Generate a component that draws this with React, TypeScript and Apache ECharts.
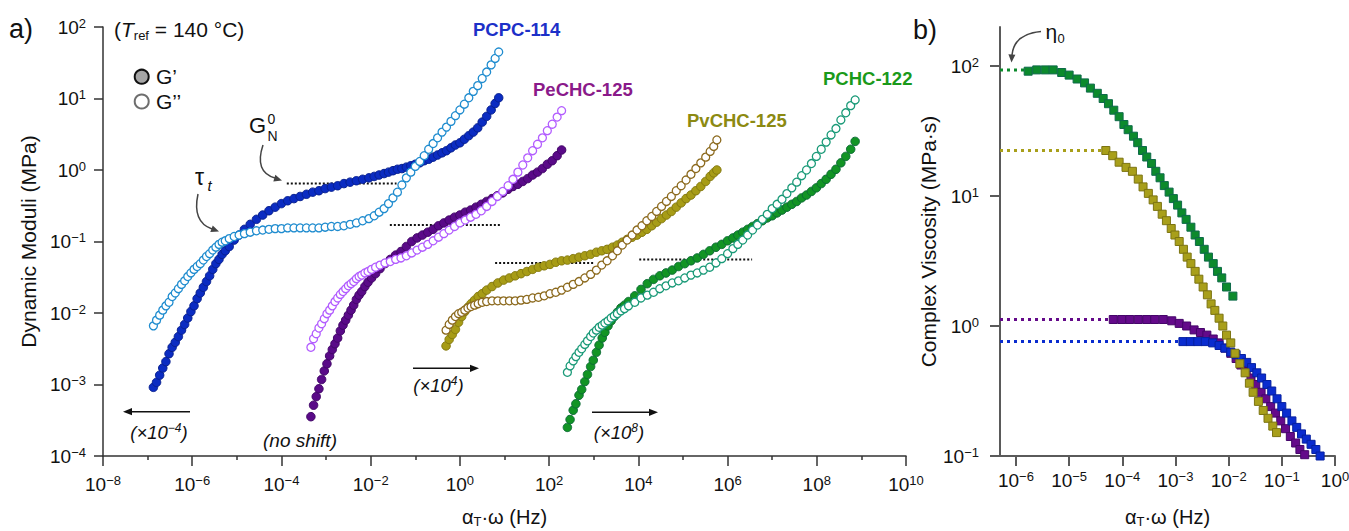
import React, { useEffect, useRef } from 'react';
import * as echarts from 'echarts';

const FONT = '"Liberation Sans", Arial, Helvetica, sans-serif';

// ---------------- panel a) : log10(aT·ω / Hz) vs log10(G / MPa) ----------------
// PCPC-114 (shift ×10^-4)
const pcpcLogF = [-6.87,-6.80,-6.73,-6.66,-6.59,-6.52,-6.45,-6.38,-6.31,-6.24,-6.17,-6.10,-6.03,-5.96,-5.89,-5.82,-5.75,-5.68,-5.61,-5.54,-5.47,-5.40,-5.33,-5.26,-5.17,-5.06,-4.95,-4.83,-4.70,-4.56,-4.42,-4.28,-4.14,-4.00,-3.86,-3.72,-3.58,-3.44,-3.30,-3.16,-3.02,-2.88,-2.74,-2.60,-2.46,-2.32,-2.18,-2.04,-1.92,-1.81,-1.70,-1.60,-1.50,-1.40,-1.30,-1.20,-1.10,-1.00,-0.90,-0.80,-0.70,-0.60,-0.50,-0.40,-0.30,-0.20,-0.10,0.00,0.10,0.20,0.30,0.40,0.50,0.60,0.70,0.79,0.87];
const pcpcLogGp = [-3.04,-2.97,-2.87,-2.77,-2.68,-2.57,-2.48,-2.41,-2.33,-2.24,-2.16,-2.07,-1.98,-1.90,-1.80,-1.72,-1.64,-1.56,-1.48,-1.39,-1.31,-1.25,-1.18,-1.13,-1.07,-0.98,-0.91,-0.83,-0.76,-0.69,-0.63,-0.57,-0.52,-0.47,-0.43,-0.40,-0.37,-0.34,-0.31,-0.29,-0.26,-0.24,-0.22,-0.19,-0.17,-0.15,-0.13,-0.11,-0.09,-0.07,-0.05,-0.03,-0.01,0.01,0.02,0.04,0.06,0.08,0.10,0.13,0.15,0.18,0.21,0.24,0.27,0.31,0.35,0.38,0.43,0.48,0.53,0.59,0.67,0.75,0.84,0.93,1.01];
const pcpcLogGpp = [-2.18,-2.10,-2.03,-1.96,-1.90,-1.85,-1.77,-1.72,-1.66,-1.60,-1.55,-1.49,-1.44,-1.39,-1.35,-1.31,-1.26,-1.21,-1.17,-1.12,-1.08,-1.04,-1.01,-0.99,-0.96,-0.93,-0.91,-0.89,-0.87,-0.85,-0.84,-0.83,-0.82,-0.82,-0.81,-0.81,-0.81,-0.81,-0.81,-0.81,-0.80,-0.79,-0.79,-0.78,-0.76,-0.74,-0.71,-0.68,-0.64,-0.59,-0.54,-0.47,-0.39,-0.31,-0.21,-0.11,-0.03,0.05,0.12,0.20,0.29,0.37,0.45,0.53,0.60,0.68,0.76,0.84,0.92,1.01,1.10,1.18,1.28,1.37,1.47,1.56,1.65];

// PeCHC-125 (no shift)
const pechcLogF = [-3.34,-3.28,-3.22,-3.16,-3.10,-3.04,-2.98,-2.92,-2.86,-2.80,-2.74,-2.68,-2.62,-2.56,-2.50,-2.44,-2.38,-2.32,-2.26,-2.20,-2.13,-2.06,-1.98,-1.89,-1.79,-1.68,-1.56,-1.44,-1.32,-1.20,-1.08,-0.96,-0.84,-0.72,-0.60,-0.48,-0.36,-0.24,-0.12,0.00,0.12,0.24,0.36,0.48,0.60,0.72,0.84,0.96,1.08,1.19,1.30,1.41,1.52,1.63,1.74,1.85,1.96,2.07,2.18,2.28];
const pechcLogGp = [-3.45,-3.29,-3.17,-3.06,-2.93,-2.81,-2.71,-2.60,-2.51,-2.43,-2.35,-2.25,-2.17,-2.10,-2.03,-1.96,-1.89,-1.81,-1.75,-1.70,-1.63,-1.57,-1.51,-1.45,-1.38,-1.31,-1.25,-1.19,-1.14,-1.07,-1.00,-0.95,-0.91,-0.87,-0.83,-0.78,-0.74,-0.70,-0.66,-0.63,-0.59,-0.56,-0.52,-0.48,-0.44,-0.40,-0.36,-0.32,-0.27,-0.23,-0.20,-0.16,-0.12,-0.07,-0.03,0.02,0.08,0.13,0.20,0.28];
const pechcLogGpp = [-2.48,-2.36,-2.29,-2.21,-2.15,-2.08,-2.01,-1.96,-1.90,-1.84,-1.79,-1.74,-1.70,-1.66,-1.62,-1.59,-1.56,-1.52,-1.49,-1.47,-1.44,-1.42,-1.39,-1.36,-1.33,-1.30,-1.28,-1.25,-1.23,-1.20,-1.16,-1.12,-1.08,-1.04,-0.99,-0.94,-0.89,-0.84,-0.79,-0.74,-0.70,-0.66,-0.62,-0.57,-0.51,-0.44,-0.37,-0.30,-0.22,-0.13,-0.03,0.07,0.17,0.27,0.36,0.45,0.55,0.64,0.74,0.83];

// PvCHC-125 (shift ×10^4)
const pvchcLogF = [-0.31,-0.24,-0.17,-0.10,-0.03,0.04,0.11,0.18,0.25,0.33,0.41,0.50,0.60,0.72,0.85,0.98,1.11,1.24,1.37,1.50,1.63,1.76,1.89,2.02,2.15,2.28,2.41,2.54,2.67,2.80,2.93,3.06,3.18,3.30,3.42,3.53,3.64,3.75,3.86,3.97,4.08,4.19,4.30,4.41,4.52,4.63,4.74,4.85,4.96,5.07,5.18,5.29,5.40,5.51,5.61,5.69,5.76];
const pvchcLogGp = [-2.46,-2.37,-2.30,-2.23,-2.13,-2.05,-1.98,-1.92,-1.87,-1.82,-1.77,-1.73,-1.68,-1.63,-1.58,-1.54,-1.51,-1.48,-1.45,-1.42,-1.39,-1.36,-1.34,-1.32,-1.29,-1.27,-1.26,-1.24,-1.22,-1.20,-1.18,-1.15,-1.13,-1.11,-1.08,-1.05,-1.01,-0.97,-0.94,-0.91,-0.87,-0.83,-0.78,-0.73,-0.68,-0.63,-0.58,-0.52,-0.46,-0.40,-0.35,-0.29,-0.23,-0.16,-0.09,-0.04,0.00];
const pvchcLogGpp = [-2.24,-2.16,-2.10,-2.05,-2.01,-1.99,-1.96,-1.93,-1.91,-1.89,-1.87,-1.85,-1.84,-1.83,-1.83,-1.83,-1.83,-1.83,-1.82,-1.81,-1.79,-1.78,-1.76,-1.73,-1.71,-1.68,-1.64,-1.60,-1.56,-1.51,-1.46,-1.40,-1.33,-1.27,-1.20,-1.13,-1.05,-0.98,-0.91,-0.84,-0.78,-0.71,-0.65,-0.58,-0.51,-0.44,-0.37,-0.29,-0.22,-0.14,-0.06,0.02,0.10,0.18,0.26,0.33,0.42];

// PCHC-122 (shift ×10^8)
const pchcLogF = [2.41,2.47,2.54,2.60,2.67,2.73,2.80,2.86,2.93,2.99,3.06,3.12,3.19,3.25,3.32,3.39,3.46,3.53,3.61,3.69,3.78,3.92,4.06,4.20,4.34,4.48,4.62,4.76,4.90,5.04,5.18,5.32,5.46,5.60,5.74,5.87,6.00,6.12,6.23,6.34,6.45,6.56,6.67,6.78,6.89,7.00,7.11,7.22,7.33,7.44,7.55,7.66,7.77,7.88,7.99,8.10,8.21,8.32,8.43,8.54,8.65,8.76,8.86];
const pchcLogGp = [-3.60,-3.49,-3.36,-3.27,-3.15,-3.07,-2.96,-2.86,-2.75,-2.66,-2.55,-2.45,-2.35,-2.27,-2.18,-2.11,-2.05,-1.99,-1.93,-1.89,-1.84,-1.76,-1.67,-1.59,-1.53,-1.48,-1.44,-1.40,-1.35,-1.31,-1.27,-1.23,-1.18,-1.13,-1.08,-1.04,-0.99,-0.95,-0.91,-0.87,-0.83,-0.79,-0.75,-0.71,-0.67,-0.64,-0.60,-0.56,-0.52,-0.48,-0.44,-0.39,-0.35,-0.30,-0.25,-0.19,-0.13,-0.06,0.01,0.10,0.19,0.29,0.40];
const pchcLogGpp = [-2.83,-2.74,-2.67,-2.61,-2.55,-2.50,-2.44,-2.39,-2.33,-2.28,-2.24,-2.20,-2.17,-2.14,-2.11,-2.07,-2.04,-2.01,-1.97,-1.94,-1.90,-1.85,-1.79,-1.75,-1.71,-1.66,-1.62,-1.58,-1.55,-1.51,-1.47,-1.44,-1.40,-1.36,-1.30,-1.24,-1.17,-1.10,-1.04,-0.98,-0.91,-0.84,-0.77,-0.69,-0.62,-0.54,-0.48,-0.41,-0.33,-0.25,-0.17,-0.08,0.00,0.09,0.19,0.29,0.39,0.49,0.58,0.70,0.80,0.90,0.98];

// plateau modulus G_N^0 guide lines (PCPC, PeCHC, PvCHC, PCHC)
const plateauStart = [-3.88, -1.57, 0.79, 4.02];
const plateauEnd = [-1.42, 0.94, 3.03, 6.55];
const plateauLogG = [-0.19, -0.77, -1.30, -1.25];

// ---------------- panel b) : log10(aT·ω / Hz) vs log10(|η*| / MPa·s) ----------------
const pchcEta = [[-5.77,1.96],[-5.61,1.97],[-5.45,1.97],[-5.30,1.97],[-5.14,1.95],[-5.00,1.93],[-4.85,1.90],[-4.71,1.87],[-4.60,1.83],[-4.47,1.79],[-4.36,1.75],[-4.26,1.71],[-4.16,1.66],[-4.06,1.61],[-3.97,1.55],[-3.89,1.51],[-3.79,1.46],[-3.71,1.41],[-3.62,1.35],[-3.54,1.30],[-3.45,1.25],[-3.37,1.19],[-3.29,1.14],[-3.21,1.08],[-3.12,1.03],[-3.04,0.98],[-2.96,0.93],[-2.88,0.87],[-2.80,0.82],[-2.71,0.76],[-2.63,0.70],[-2.55,0.65],[-2.46,0.59],[-2.38,0.53],[-2.29,0.48],[-2.21,0.42],[-2.13,0.37],[-2.04,0.30],[-1.92,0.23]];
const pvchcEta = [[-4.31,1.35],[-4.18,1.31],[-4.06,1.26],[-3.93,1.22],[-3.81,1.19],[-3.70,1.13],[-3.61,1.07],[-3.51,1.02],[-3.42,0.97],[-3.34,0.92],[-3.25,0.86],[-3.17,0.81],[-3.08,0.75],[-3.01,0.70],[-2.93,0.65],[-2.85,0.59],[-2.78,0.53],[-2.71,0.48],[-2.63,0.42],[-2.56,0.36],[-2.48,0.30],[-2.40,0.24],[-2.33,0.17],[-2.26,0.12],[-2.18,0.06],[-2.11,0.00],[-2.04,-0.07],[-1.96,-0.13],[-1.88,-0.21],[-1.79,-0.29],[-1.69,-0.36],[-1.61,-0.44],[-1.54,-0.51],[-1.44,-0.58],[-1.35,-0.65],[-1.26,-0.71],[-1.17,-0.77],[-1.10,-0.82]];
const pechcEta = [[-4.17,0.05],[-4.01,0.05],[-3.86,0.05],[-3.70,0.05],[-3.54,0.05],[-3.39,0.05],[-3.23,0.05],[-3.07,0.04],[-2.93,0.02],[-2.79,0.00],[-2.65,-0.03],[-2.53,-0.05],[-2.41,-0.07],[-2.29,-0.10],[-2.18,-0.13],[-2.07,-0.17],[-1.96,-0.21],[-1.86,-0.25],[-1.77,-0.30],[-1.67,-0.35],[-1.58,-0.40],[-1.49,-0.45],[-1.39,-0.51],[-1.30,-0.56],[-1.21,-0.62],[-1.12,-0.67],[-1.02,-0.73],[-0.93,-0.79],[-0.84,-0.85],[-0.74,-0.90],[-0.66,-0.95],[-0.57,-0.99]];
const pcpcEta = [[-2.86,-0.12],[-2.72,-0.12],[-2.58,-0.12],[-2.44,-0.12],[-2.30,-0.13],[-2.18,-0.15],[-2.07,-0.17],[-1.96,-0.20],[-1.86,-0.22],[-1.76,-0.25],[-1.66,-0.28],[-1.57,-0.32],[-1.47,-0.36],[-1.38,-0.40],[-1.28,-0.45],[-1.19,-0.50],[-1.09,-0.56],[-1.00,-0.62],[-0.91,-0.67],[-0.81,-0.73],[-0.72,-0.78],[-0.63,-0.83],[-0.54,-0.87],[-0.45,-0.91],[-0.36,-0.95],[-0.28,-1.00]];
// zero-shear viscosity levels η0 (PeCHC, PCPC, PvCHC, PCHC)
const eta0Log = [0.05, -0.12, 1.35, 1.97];

// tick values (decades)
const xTicksB = [-6, -5, -4, -3, -2, -1, 0];
const yTicksB = [-1, 0, 1, 2];

// ---------------- styling ----------------
const panelA = [
  { F: pcpcLogF, Gp: pcpcLogGp, Gpp: pcpcLogGpp, fill: '#0b2cc2', edge: '#08208f', open: '#1f8ccf' },
  { F: pechcLogF, Gp: pechcLogGp, Gpp: pechcLogGpp, fill: '#5a0a88', edge: '#420668', open: '#b25cff' },
  { F: pvchcLogF, Gp: pvchcLogGp, Gpp: pvchcLogGpp, fill: '#a79c16', edge: '#857a0f', open: '#8c6a1e' },
  { F: pchcLogF, Gp: pchcLogGp, Gpp: pchcLogGpp, fill: '#129424', edge: '#0c6d36', open: '#1a9a78' },
];
const panelB = [
  { data: pechcEta, eta0: eta0Log[0], fill: '#640a8a', edge: '#45066a' },
  { data: pcpcEta, eta0: eta0Log[1], fill: '#0a2ccf', edge: '#0620a0' },
  { data: pvchcEta, eta0: eta0Log[2], fill: '#a89f1a', edge: '#7c7412' },
  { data: pchcEta, eta0: eta0Log[3], fill: '#0c8a2c', edge: '#0e6a4a' },
];

const supText = (v: number) => {
  const n = Math.round(v);
  return n < 0 ? '\u2212' + Math.abs(n) : String(n);
};
const pow10 = (v: number) => '{b|10}{s|' + supText(v) + '}';
const tickRich = {
  b: { fontSize: 19, lineHeight: 21, fontFamily: FONT, color: '#111' },
  s: { fontSize: 13, fontFamily: FONT, color: '#111', verticalAlign: 'top' },
};
const nameRich = {
  a: { fontSize: 20, lineHeight: 22, fontFamily: FONT, color: '#111' },
  t: { fontSize: 13, fontFamily: FONT, color: '#111', verticalAlign: 'bottom' },
};
const xName = '{a|α}{t|T}{a|·ω (Hz)}';

function T(x: number, y: number, text: string, extra: any = {}, align = 'left') {
  return {
    type: 'text', x, y, silent: true, z: 100,
    style: {
      text, fontFamily: FONT, fontSize: 18, fill: '#111',
      textAlign: align, align, textVerticalAlign: 'middle', verticalAlign: 'middle',
      ...extra,
    },
  };
}
function head(tx: number, ty: number, dx: number, dy: number, color = '#111', len = 9, half = 3.6) {
  const n = Math.hypot(dx, dy);
  const ux = dx / n, uy = dy / n, px = -uy, py = ux;
  const bx = tx - ux * len, by = ty - uy * len;
  return {
    type: 'polygon', silent: true, z: 100,
    shape: { points: [[tx, ty], [bx + px * half, by + py * half], [bx - px * half, by - py * half]] },
    style: { fill: color },
  };
}
function seg(x1: number, y1: number, x2: number, y2: number) {
  return { type: 'line', silent: true, z: 100, shape: { x1, y1, x2, y2 }, style: { stroke: '#111', lineWidth: 1.6 } };
}
function curve(x1: number, y1: number, cx: number, cy: number, x2: number, y2: number) {
  return {
    type: 'bezierCurve', silent: true, z: 100,
    shape: { x1, y1, cpx1: cx, cpy1: cy, x2, y2 },
    style: { stroke: '#444', lineWidth: 1.5, fill: 'none' },
  };
}
const shiftRich = {
  i: { fontSize: 18.5, lineHeight: 21, fontStyle: 'italic', fontFamily: FONT, fill: '#111' },
  s: { fontSize: 12, fontStyle: 'italic', fontFamily: FONT, fill: '#111', verticalAlign: 'top' },
};

function buildOption(): any {
  const series: any[] = [];
  plateauLogG.forEach((g, i) => {
    series.push({
      type: 'line', xAxisIndex: 0, yAxisIndex: 0, silent: true, symbol: 'none', z: 1,
      data: [[plateauStart[i], g], [plateauEnd[i], g]],
      lineStyle: { color: '#111', width: 2, type: [2, 2] },
    });
  });
  panelA.forEach((m) => {
    series.push({
      type: 'scatter', xAxisIndex: 0, yAxisIndex: 0, silent: true, symbol: 'circle', symbolSize: 8.5, z: 2,
      data: m.F.map((f, i) => [f, m.Gp[i]]),
      itemStyle: { color: m.fill, borderColor: m.edge, borderWidth: 1, opacity: 1 },
    });
    series.push({
      type: 'scatter', xAxisIndex: 0, yAxisIndex: 0, silent: true, symbol: 'circle', symbolSize: 8, z: 3,
      data: m.F.map((f, i) => [f, m.Gpp[i]]),
      itemStyle: { color: '#ffffff', borderColor: m.open, borderWidth: 1.3, opacity: 1 },
    });
  });
  panelB.forEach((m) => {
    series.push({
      type: 'line', xAxisIndex: 1, yAxisIndex: 1, silent: true, symbol: 'none', z: 1,
      data: [[-6.3, m.eta0], [m.data[0][0], m.eta0]],
      lineStyle: { color: m.fill, width: 3, type: [3, 4] },
    });
  });
  panelB.forEach((m) => {
    series.push({
      type: 'scatter', xAxisIndex: 1, yAxisIndex: 1, silent: true, symbol: 'rect', symbolSize: 8, z: 2,
      data: m.data,
      itemStyle: { color: m.fill, borderColor: m.edge, borderWidth: 1, opacity: 1 },
    });
  });

  const lineA = { show: true, onZero: false, lineStyle: { color: '#333', width: 1.5 } };
  const lineB = { show: true, onZero: false, lineStyle: { color: '#5a5a5a', width: 2 } };

  const graphic: any[] = [
    T(9, 29, 'a)', { fontSize: 27 }),
    T(913, 30, 'b)', { fontSize: 27 }),
    T(114, 29, '{n|(}{i|T}{s|ref}{n| = 140 °C)}', {
      rich: {
        n: { fontSize: 21, lineHeight: 26, fontFamily: FONT, fill: '#111' },
        i: { fontSize: 21, lineHeight: 26, fontStyle: 'italic', fontFamily: FONT, fill: '#111' },
        s: { fontSize: 13, fontFamily: FONT, fill: '#111', verticalAlign: 'bottom' },
      },
    }),
    { type: 'circle', silent: true, z: 100, shape: { cx: 141.7, cy: 76.7, r: 7 }, style: { fill: '#a6a6a6', stroke: '#111', lineWidth: 2 } },
    T(156, 76.7, 'G’', { fontSize: 21 }),
    { type: 'circle', silent: true, z: 100, shape: { cx: 141.7, cy: 101.5, r: 7 }, style: { fill: '#ffffff', stroke: '#6e6e6e', lineWidth: 2 } },
    T(156, 101.5, 'G’’', { fontSize: 21 }),
    // material labels
    T(473, 29, 'PCPC-114', { fontSize: 18.5, fontWeight: 'bold', fill: '#1c30c8' }),
    T(533, 89, 'PeCHC-125', { fontSize: 18.5, fontWeight: 'bold', fill: '#8a1a8a' }),
    T(687, 120, 'PvCHC-125', { fontSize: 18.5, fontWeight: 'bold', fill: '#8c8a12' }),
    T(823, 78, 'PCHC-122', { fontSize: 18.5, fontWeight: 'bold', fill: '#1a9a1a' }),
    // shift factors
    seg(190, 411.7, 130, 411.7), head(123, 411.7, -1, 0),
    T(159, 432, '{i|(×10}{s|−4}{i|)}', { rich: shiftRich }, 'center'),
    T(300, 440, '(no shift)', { fontSize: 19, fontStyle: 'italic' }, 'center'),
    seg(413, 368.3, 472, 368.3), head(479, 368.3, 1, 0),
    T(438.5, 385, '{i|(×10}{s|4}{i|)}', { rich: shiftRich }, 'center'),
    seg(592, 412.3, 651, 412.3), head(658, 412.3, 1, 0),
    T(619, 432, '{i|(×10}{s|8}{i|)}', { rich: shiftRich }, 'center'),
    // tau_t
    T(195, 177, 'τ', { fontSize: 23 }),
    T(207.5, 185, 't', { fontSize: 15, fontStyle: 'italic' }),
    curve(198, 194, 192, 222, 212, 229), head(219, 231.5, 1, 0.38, '#444', 8, 3.5),
    // G_N^0
    T(249, 125.5, 'G', { fontSize: 22 }),
    T(267.5, 118.5, '0', { fontSize: 14 }),
    T(267.5, 136, 'N', { fontSize: 14 }),
    curve(263, 145, 254, 172, 275, 178), head(282, 180.5, 1, 0.3, '#444', 8, 3.5),
    // eta_0
    T(1045.5, 31, 'η', { fontSize: 21 }),
    T(1057.5, 38, '0', { fontSize: 13 }),
    curve(1041, 31.5, 1014, 34, 1012, 55), head(1011.5, 62.5, -0.05, 1, '#444', 8, 3.5),
  ];

  return {
    animation: false,
    backgroundColor: '#ffffff',
    textStyle: { fontFamily: FONT },
    grid: [
      { left: 103, top: 27, width: 803, height: 429, outerBoundsMode: 'none', containLabel: false },
      { left: 1000, top: 27, width: 335, height: 429, outerBoundsMode: 'none', containLabel: false },
    ],
    xAxis: [
      {
        gridIndex: 0, type: 'value', min: -8, max: 10, interval: 2,
        axisLine: lineA,
        axisTick: { show: true, length: 10, lineStyle: { color: '#333', width: 1.5 } },
        minorTick: { show: true, splitNumber: 2, length: 4, lineStyle: { color: '#333', width: 1.5 } },
        splitLine: { show: false }, minorSplitLine: { show: false },
        axisLabel: { formatter: pow10, margin: 18, rich: tickRich },
        name: xName, nameLocation: 'middle', nameGap: 50, nameTextStyle: { rich: nameRich },
      },
      {
        gridIndex: 1, type: 'value', min: -6.3, max: 0,
        axisLine: lineB,
        axisTick: { show: true, length: 10, customValues: xTicksB, lineStyle: { color: '#5a5a5a', width: 2 } },
        splitLine: { show: false },
        axisLabel: { customValues: xTicksB, formatter: pow10, margin: 14, rich: tickRich },
        name: xName, nameLocation: 'middle', nameGap: 50, nameTextStyle: { rich: nameRich },
      },
    ],
    yAxis: [
      {
        gridIndex: 0, type: 'value', min: -4, max: 2, interval: 1,
        axisLine: lineA,
        axisTick: { show: true, length: 9, lineStyle: { color: '#333', width: 1.5 } },
        splitLine: { show: false },
        axisLabel: { formatter: pow10, margin: 17, rich: tickRich },
        name: 'Dynamic Moduli (MPa)', nameLocation: 'middle', nameGap: 59,
        nameTextStyle: { fontSize: 21, fontFamily: FONT, color: '#111' },
      },
      {
        gridIndex: 1, type: 'value', min: -1, max: 2.3,
        axisLine: lineB,
        axisTick: { show: true, length: 10, customValues: yTicksB, lineStyle: { color: '#5a5a5a', width: 2 } },
        splitLine: { show: false },
        axisLabel: { customValues: yTicksB, formatter: pow10, margin: 21, rich: tickRich },
        name: 'Complex Viscosity (MPa·s)', nameLocation: 'middle', nameGap: 60,
        nameTextStyle: { fontSize: 21, fontFamily: FONT, color: '#111' },
      },
    ],
    series,
    graphic,
  };
}

export default function App() {
  const ref = useRef<HTMLDivElement>(null);
  useEffect(() => {
    document.body.style.margin = '0';
    const chart = echarts.init(ref.current as HTMLDivElement, null, { renderer: 'svg' });
    chart.setOption(buildOption());
    return () => chart.dispose();
  }, []);
  return <div ref={ref} style={{ width: 1349, height: 531 }} />;
}
